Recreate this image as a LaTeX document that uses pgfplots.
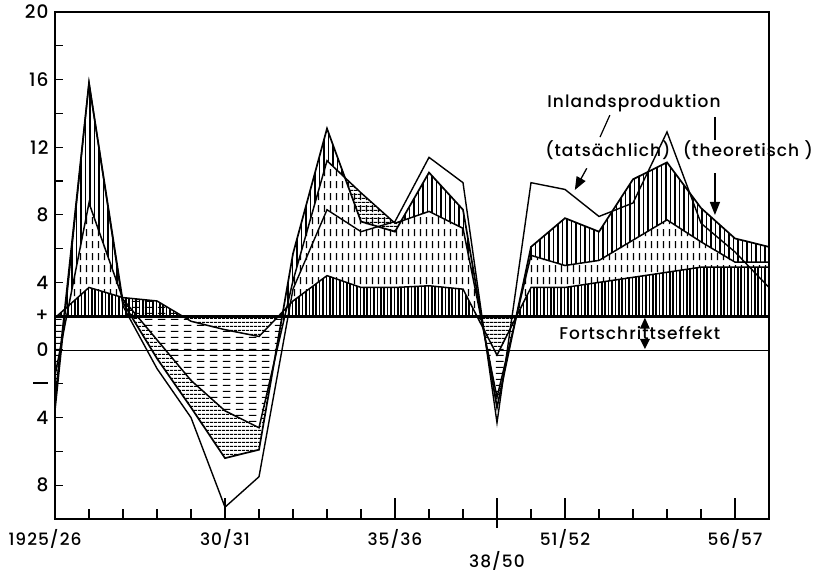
\documentclass[border=0pt]{standalone}
\usepackage{fontspec}
\setmainfont{Poppins}[LetterSpace=6, UprightFont={* Medium}]
\usepackage{pgfplots}
\usepackage{pgfplotstable}
\pgfplotsset{compat=1.18}
\usepgfplotslibrary{fillbetween}
\usetikzlibrary{patterns,patterns.meta,arrows.meta}

% short vertical dashes
\pgfdeclarepatternformonly{dashvert}{\pgfpointorigin}{\pgfpoint{5.5pt}{12pt}}{\pgfpoint{5.5pt}{12pt}}{%
  \pgfsetlinewidth{1.3pt}%
  \pgfpathmoveto{\pgfpoint{2.75pt}{2pt}}\pgfpathlineto{\pgfpoint{2.75pt}{9.5pt}}\pgfusepath{stroke}}
% short horizontal dashes
\pgfdeclarepatternformonly{dashhorz}{\pgfpointorigin}{\pgfpoint{13pt}{6pt}}{\pgfpoint{13pt}{6pt}}{%
  \pgfsetlinewidth{1.3pt}%
  \pgfpathmoveto{\pgfpoint{2pt}{3pt}}\pgfpathlineto{\pgfpoint{10pt}{3pt}}\pgfusepath{stroke}}

\tikzset{
  densev/.style={pattern={Lines[angle=90,distance=3.4pt,line width=1.6pt]}},
  solidv/.style={pattern={Lines[angle=90,distance=4.5pt,line width=1.15pt]}},
  solidh/.style={pattern={Lines[angle=0,distance=4pt,line width=1.1pt]}},
  dashv/.style={pattern=dashvert},
  dashh/.style={pattern=dashhorz},
}

% growth rates, one row per year (x = position on the time axis)
\pgfplotstableread{
x   A     B     C     D
0  -3.6  -3.0  -1.5   1.9
1  15.8  15.8   8.7   3.7
2   2.6   2.8   3.0   3.1
3  -1.1  -0.5   0.6   2.9
4  -4.0  -3.4  -1.8   1.7
5  -9.3  -6.4  -3.6   1.2
6  -7.5  -5.9  -4.6   0.8
7   3.6   5.7   4.1   2.9
8   8.3  13.1  11.2   4.4
9   7.0   7.6   9.3   3.7
10  7.6   7.0   7.5   3.7
11 11.4  10.5   8.2   3.8
12  9.9   8.3   7.2   3.6
13 -4.3  -3.4  -2.8  -0.3
14  9.9   6.1   5.6   3.7
15  9.5   7.8   5.0   3.7
16  7.9   7.0   5.3   4.0
17  8.7  10.1   6.5   4.3
18 12.9  11.1   7.7   4.6
19  7.5   8.4   6.4   4.9
20  5.8   6.6   5.2   4.9
21  3.7   6.1   5.2   4.9
}\growth

\begin{document}
\begin{tikzpicture}
\begin{axis}[
  scale only axis, width=714pt, height=507pt,
  xmin=0, xmax=21, ymin=-10, ymax=20,
  clip=false,
  axis line style={line width=1.3pt},
  tick align=inside, xtick pos=bottom, ytick pos=left,
  xtick={0,5,10,15,20},
  xticklabels={\makebox[0pt][c]{\kern-20pt 1925/26},30/31,35/36,51/52,56/57},
  minor xtick={1,2,3,4,6,7,8,9,11,12,14,16,17,18,19},
  extra x ticks={13}, extra x tick labels={38/50},
  extra x tick style={xticklabel style={yshift=-22pt}},
  xtick style={/pgfplots/major tick length=21pt,/pgfplots/minor tick length=10pt,line width=1.2pt,black},
  ytick={20,16,12,8,4,2,0,-2,-4,-8},
  yticklabels={20,16,12,8,4,+,0,\rule[1pt]{15pt}{1.8pt},4,8},
  minor ytick={18,14,10,6,-6},
  ytick style={/pgfplots/major tick length=8pt,/pgfplots/minor tick length=8pt,line width=1.2pt,black},
  ticklabel style={font=\fontsize{17}{20}\selectfont},
  yticklabel style={font=\fontsize{18.5}{20}\selectfont, xshift=-3pt},
  xticklabel style={yshift=-7pt},
]
\coordinate (SW) at (rel axis cs:0,0);
\coordinate (NE) at (rel axis cs:1,1);

% named outlines
\addplot[draw=none, name path=A] table[x=x,y=A]{\growth};
\addplot[draw=none, name path=B] table[x=x,y=B]{\growth};
\addplot[draw=none, name path=C] table[x=x,y=C]{\growth};
\addplot[draw=none, name path=D] table[x=x,y=D]{\growth};
\addplot[draw=none, name path=base] coordinates {(0,2) (21,2)};

% first component, measured from the progress line
\addplot[densev] fill between[of=D and base, soft clip={domain=0.06:3.75}];
\addplot[densev] fill between[of=D and base, soft clip={domain=6.57:12.41}];
\addplot[densev] fill between[of=D and base, soft clip={domain=13.58:21}];
\addplot[solidh] fill between[of=D and base, soft clip={domain=0:0.06}];
\addplot[solidh] fill between[of=D and base, soft clip={domain=3.75:6.57}];
\addplot[solidh] fill between[of=D and base, soft clip={domain=12.41:13.58}];

% second component
\addplot[dashv] fill between[of=C and D, soft clip={domain=0.4:1.98}];
\addplot[dashv] fill between[of=C and D, soft clip={domain=6.82:12.59}];
\addplot[dashv] fill between[of=C and D, soft clip={domain=13.57:21}];
\addplot[dashh] fill between[of=C and D, soft clip={domain=0:0.4}];
\addplot[dashh] fill between[of=C and D, soft clip={domain=1.98:6.82}];
\addplot[dashh] fill between[of=C and D, soft clip={domain=12.59:13.57}];

% third component
\addplot[solidv] fill between[of=B and C, soft clip={domain=0.17:1.97}];
\addplot[solidv] fill between[of=B and C, soft clip={domain=6.45:8.53}];
\addplot[solidv] fill between[of=B and C, soft clip={domain=10.18:12.65}];
\addplot[solidv] fill between[of=B and C, soft clip={domain=13.55:21}];
\addplot[solidh] fill between[of=B and C, soft clip={domain=0:0.17}];
\addplot[solidh] fill between[of=B and C, soft clip={domain=1.97:6.45}];
\addplot[solidh] fill between[of=B and C, soft clip={domain=8.53:10.18}];
\addplot[solidh] fill between[of=B and C, soft clip={domain=12.65:13.55}];

% zero line and progress line
\addplot[black, line width=0.9pt] coordinates {(0,0) (21,0)};
\addplot[black, line width=3pt] coordinates {(0,2) (21,2)};

% outlines
\addplot[black, line width=1.5pt, line join=miter] table[x=x,y=D]{\growth};
\addplot[black, line width=1.5pt, line join=miter] table[x=x,y=C]{\growth};
\addplot[black, line width=1.7pt, line join=miter] table[x=x,y=B]{\growth};
\addplot[black, line width=1.4pt, line join=miter] table[x=x,y=A]{\growth};

% labels
\begin{scope}[every node/.style={font=\fontsize{17}{20}\selectfont, inner sep=0pt}]
\node at (axis cs:17.03,14.62) {Inlandsproduktion};
\node at (axis cs:16.26,11.83) {(tatsächlich)};
\node at (axis cs:20.38,11.83) {(theoretisch )};
\node[fill=white, inner sep=1pt] at (axis cs:17.2,1.0) {Fortschrittseffekt};
\end{scope}
\draw[line width=1.2pt] (axis cs:16.32,13.9) -- (axis cs:16.03,12.6);
\draw[line width=1.2pt] (axis cs:19.41,13.79) -- (axis cs:19.41,12.43);
\draw[line width=1.3pt, -{Triangle[length=13pt,width=10pt]}] (axis cs:15.64,10.75) -- (axis cs:15.29,9.47);
\draw[line width=1.3pt, -{Triangle[length=13pt,width=10pt]}] (axis cs:19.41,10.47) -- (axis cs:19.41,7.99);
\fill (axis cs:17.35,2) ++(0pt,-1.5pt) -- ++(-5pt,-11pt) -- ++(10pt,0pt) -- cycle;
\fill (axis cs:17.35,0) ++(0pt,1pt) -- ++(-5pt,10pt) -- ++(10pt,0pt) -- cycle;
% break mark of the time axis
\draw[line width=1.2pt] (axis cs:13,-10) -- ++(0pt,-9pt);
\end{axis}
\pgfresetboundingbox
\path[use as bounding box] ([xshift=-55pt,yshift=-55pt]SW) rectangle ([xshift=48pt,yshift=12pt]NE);
\end{tikzpicture}
\end{document}
